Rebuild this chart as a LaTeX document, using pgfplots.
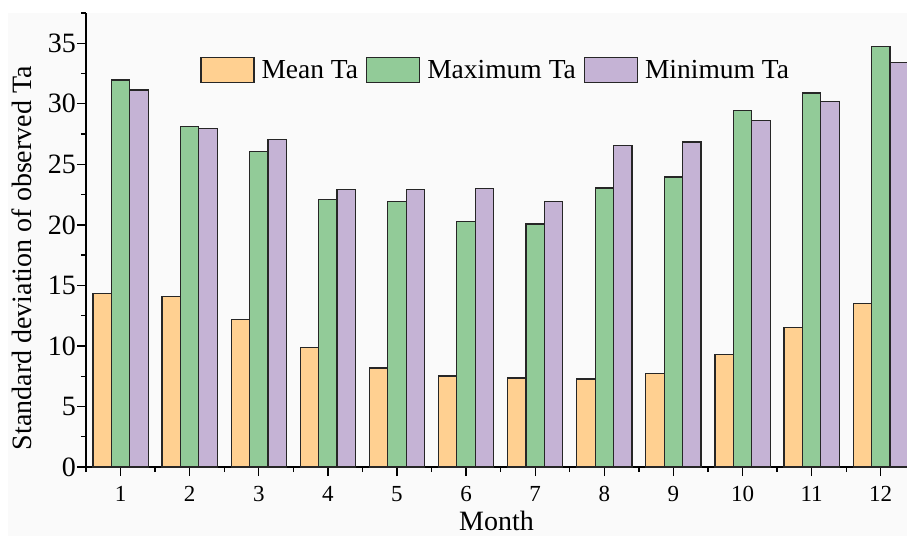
\documentclass[border=0pt]{standalone}
\usepackage{fontspec}
\setmainfont{Liberation Serif}
\usepackage{pgfplots}
\pgfplotsset{compat=1.18}
\definecolor{cmean}{HTML}{FFD091}
\definecolor{cmax}{HTML}{92CB98}
\definecolor{cmin}{HTML}{C5B3D5}
\definecolor{bgc}{HTML}{FAFAFA}
\begin{document}
\begin{tikzpicture}
\fill[bgc] (-78pt,-69pt) rectangle (821pt,454pt);
\begin{axis}[
  scale only axis,
  width=821pt, height=454pt,
  xmin=0.5, xmax=12.38,
  ymin=0, ymax=37.5,
  axis x line*=bottom, axis y line*=left,
  axis line style={line width=1.5pt, -},
  xtick={1,...,12},
  minor xtick={0.5,1.5,...,12.5},
  ytick={0,5,...,35},
  minor ytick={2.5,7.5,...,37.5},
  tick align=outside,
  major tick length=9pt, minor tick length=5pt,
  tick style={line width=1.3pt, black},
  /pgf/number format/assume math mode=true,
  yticklabel style={font=\fontsize{28}{30}\selectfont, inner sep=1pt},
  xticklabel style={font=\fontsize{23}{25}\selectfont, inner sep=1pt, yshift=-9pt},
  xlabel={Month},
  ylabel={Standard deviation of observed Ta},
  every axis x label/.style={at={(axis description cs:0.5,0)}, anchor=north, yshift=-44pt, inner sep=0pt, font=\fontsize{28}{30}\selectfont},
  every axis y label/.style={at={(axis description cs:-0.078,0.46)}, anchor=center, rotate=90, inner sep=0pt, font=\fontsize{28}{30}\selectfont},
  legend columns=3,
  legend style={at={(axis description cs:0.139,0.874)}, anchor=west, draw=none, fill=none, inner sep=0pt,
    font=\fontsize{27.5}{29}\selectfont,
    /tikz/every odd column/.append style={column sep=5pt},
    /tikz/every even column/.append style={column sep=6pt}},
  clip=true,
]
\pgfplotsset{mybar/.style={ybar, bar width=18.4pt, draw=black!85, line width=1.2pt, fill=#1,
  legend image code/.code={\draw[fill=#1, draw=black!85, line width=1.2pt] (0pt,-12.5pt) rectangle (53pt,12.5pt);}}}
\addplot[mybar=cmean, bar shift=-18.4pt] coordinates {
(1,14.35) (2,14.09) (3,12.16) (4,9.84) (5,8.18) (6,7.52) (7,7.35) (8,7.27) (9,7.72) (10,9.29) (11,11.5) (12,13.5)};
\addlegendentry{Mean Ta}
\addplot[mybar=cmax, bar shift=0pt] coordinates {
(1,31.96) (2,28.1) (3,26.03) (4,22.1) (5,21.95) (6,20.3) (7,20.07) (8,23.05) (9,23.96) (10,29.45) (11,30.9) (12,34.72)};
\addlegendentry{Maximum Ta}
\addplot[mybar=cmin, bar shift=18.4pt] coordinates {
(1,31.14) (2,27.98) (3,27.02) (4,22.95) (5,22.9) (6,23.0) (7,21.95) (8,26.55) (9,26.85) (10,28.65) (11,30.16) (12,33.39)};
\addlegendentry{Minimum Ta}
\end{axis}
\pgfresetboundingbox
\path[use as bounding box] (-86pt,-69pt) rectangle (821pt,467pt);
\end{tikzpicture}
\end{document}
